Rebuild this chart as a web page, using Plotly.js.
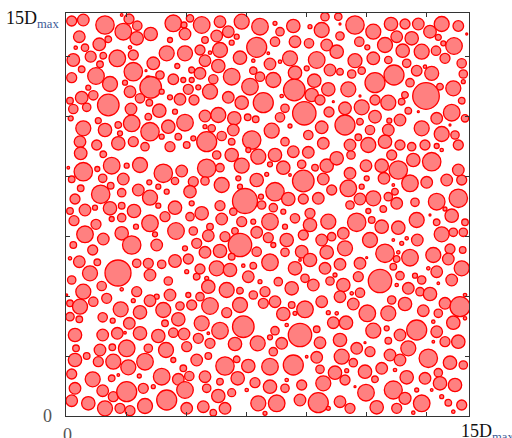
<!DOCTYPE html>
<html>
<head>
<meta charset="utf-8">
<script src="https://cdn.plot.ly/plotly-3.0.1.min.js"></script>
<style>
html,body{margin:0;padding:0;background:#fff;}
#chart{width:512px;height:438px;}
</style>
</head>
<body>
<div id="chart"></div>
<script>
// Particle packing inside a square box of side 15*Dmax.
// Coordinates: box side = 403 units (15*Dmax); each entry is [centreX, centreY, radius].
const BOX = 403;
const tickPositions = [60, 120, 180, 240, 300, 360];
const labelOrigin = "0";
const labelBox = "15D";
const labelSub = "max";

const particlesTopLeft = [[5.7,395,5],[17.3,396,5.8],[39,391,9.2],[55.7,401,1.3],[63,397,5],[71.3,390.3,4.7],[57.3,384.3,8.3],[70.7,377.7,6.7],[84.7,382,6.7],[107.3,392.7,8.3],[118,391,3],[124,397.7,3.7],[119,382,5.8],[13.3,379.3,5.8],[42.3,376.7,3.3],[33.3,371.7,6.3],[19,368.3,3.7],[9.7,368.3,1.7],[7.3,356,6.3],[24.7,359.3,5.5],[37.3,360.3,3.3],[51.3,357.7,8.3],[67.3,361,5],[64,368.7,1.7],[87.3,352.7,6.3],[100.7,362.7,7.5],[119,362.7,7.5],[104,376,2.5],[125.7,346,3],[111.3,350,2.5],[34,351.7,3.3],[15.7,346.7,3.3],[30,340,8.3],[5.7,338.3,5],[67.3,344.3,9.2],[80,345.3,1],[82.3,337.7,2.5],[94,341,4.2],[107.3,336.7,5.3],[117.3,336,2.5],[125.7,336,2.5],[44,332,7.5],[22.3,328.3,2.5],[59,333.3,2.5],[84.7,328.7,10.8],[64,324.3,5.8],[122.3,326.7,5],[95.7,324.3,2.5],[27.3,320.7,4.7],[15.7,318.3,6.3],[4,315.3,3.3],[42.3,311,10.8],[7.3,307,4.7],[20.7,308.7,4.2],[74,317.7,4.7],[83.3,313.3,3.3],[104,318.7,2.5],[114,316.7,5.8],[128,316,5],[65,307,5.8],[93.3,305.3,6.7],[82.3,299.3,3.3],[109,304.3,2.5],[4.7,297.7,2.5],[32.3,295.3,3],[65.7,292.7,8.3],[119,293.3,8.3],[102.3,289.3,6.7],[52.3,291,3.3],[17.3,287.7,7.5],[39,286,6.7],[84,284.3,9.2],[54,282.7,2.5],[112.3,279.3,3.3],[127.3,277.7,2.5],[14,274.3,5.8],[30.7,271,5],[52.3,272.7,6.7],[67.3,274.3,5],[79,269.3,4.2],[95.7,279.3,2.5],[104,269.3,5],[120.7,271,3.3]];

const particlesTopMid = [[135.7,391,8.3],[154,394.3,5.8],[175.7,394.3,7.5],[162.3,384.3,5.8],[150.7,380,5.8],[194,389.3,8.3],[209,392.7,2],[227.3,390,6.7],[244,389.3,2],[255.7,386,7.5],[259,399.3,4.2],[214,384.3,4.2],[170.7,379.3,2.5],[139,376,3.3],[165.7,373.3,2.5],[190.7,368.7,10],[209,374.3,4.7],[229,374.3,5.8],[243,372.7,4.7],[260.7,371,5.8],[134,366,5],[154,366,7.5],[144,363.3,1.7],[174,358.3,6.7],[202.3,362.7,1.3],[187.3,355.3,1.7],[204,352,5.8],[214,354.3,1.7],[224,357.7,7.5],[250.7,356,8.3],[139,355.3,5.8],[152.3,350,6.7],[187.3,345.3,3.7],[229,343.3,6.7],[240.7,347.7,2.5],[264,346,5.8],[134,342.7,5.8],[147.3,336.7,4.7],[165.7,339.3,8.3],[194,339.3,4.7],[207.3,336,7.5],[248.3,335.3,6.7],[132.3,328.7,2.5],[144,324.3,7.5],[184,329.3,8.3],[228.3,326,10.8],[262.3,326.7,6.7],[215.7,320,1.7],[162.3,318.7,5.8],[175.7,313.3,6.7],[197.3,313.3,10],[245.7,321,6.7],[254,316,5],[219,307.7,4.2],[139,300,5.8],[152.3,301,7.5],[168.3,297.7,6.7],[181.7,298.7,3.3],[189.7,296.7,3.3],[214,298.7,4.7],[238.3,302.7,11.7],[263,304,5],[139,289.3,2],[145.7,287.7,3.7],[167.3,286,5.8],[205.7,285.3,7.5],[224,290,2],[255.7,288.7,6.3],[242.3,281,4.7],[140.7,274.3,10],[155.7,280,4.7],[165.7,274.3,3.3],[185.7,276,9.2],[219,274.3,4.2],[257.3,272.7,5.8]];

const particlesTopRight = [[272.3,399.3,3.7],[274,392,1],[289,391,9.2],[307.3,384.3,7.5],[325,392,6.7],[339,392,5],[352.3,392,5.8],[364,384.3,6.3],[375.7,392,7.5],[392.3,390,5.3],[400.7,382,1],[274,380,4.2],[293.3,374.3,4.7],[301.3,368.7,2.5],[319,371,7.5],[330.7,379.3,5.8],[345.7,377.7,6.7],[372.3,378.7,3],[377.3,372.7,2.5],[388,370,8.3],[270.7,364.3,6.7],[289,355.3,7],[307.3,357.7,6.3],[322.3,356,3.7],[336.7,365.3,6.7],[355.7,364.3,7.5],[370,365.3,4.7],[379,357.7,5],[395.7,352.7,4.7],[340.7,352.7,4.2],[274,344.3,3.3],[285.7,342,4.2],[295.7,345.3,3.7],[350.7,345.3,5.3],[359,349.3,1.7],[365.7,342.7,7],[397.3,342,4.2],[328,341,10],[309,333.3,10],[344,333.3,4.2],[374,329.3,3.3],[387.3,327.7,7.5],[397.3,334.3,2],[282.3,326.7,7.5],[360,320,13.3],[339,321,3.3],[267.3,314.3,1],[294,320,1],[309,316,5],[322.3,313.3,7.5],[335.7,314.3,3.3],[395.7,315.3,3.3],[279,307.7,6.3],[295.7,308.7,7.5],[342.3,305.3,3.3],[385.7,303.3,8.3],[309,299.3,6.3],[323.3,295.3,2.5],[334,296,5.8],[352.3,304.3,1],[370.7,297.7,5.8],[399,297.7,3.7],[279,291,10],[294,294.3,3.3],[304,286,4.7],[322.3,286,5.8],[355.7,287.7,7.5],[384,291,1],[375.7,282,7.5],[389,281,4.2],[292.3,278.7,3.3],[284,271,5.8],[302.3,271,7.5],[319,274.3,6.7],[334,271,5],[345.7,269.3,4.2],[359,271,5],[370.7,270,2.5],[392.3,271,5]];

const particlesMidLeft = [[14.7,262.7,6.3],[37.3,261.7,3.3],[2.3,248.3,1.3],[17.3,244.3,9.2],[31.3,247,2.5],[45.7,250.3,8.3],[60.7,250.3,2.5],[74,251,7.5],[97.3,242.7,9.2],[115.7,245,5.8],[5.7,236.7,3.3],[36.7,237.7,4.2],[57.3,237,5.8],[83.3,233.7,2.5],[92.3,229.3,2.5],[109,235,3.7],[127.3,234.3,5],[14.7,227.7,3.3],[34.7,221.7,9.2],[44.7,230.3,3.3],[55.7,223.3,4.2],[72.3,226,5.8],[84,218.3,7.5],[100.7,224.3,2.5],[124,224.3,6.2],[9,217,5],[19,206,5.8],[29,208.3,2.5],[44,207.7,6.7],[55.7,210.3,3.3],[68,205,6.7],[92.3,210.3,2.5],[109,208.3,6.7],[125.7,212.7,2.5],[4,205,3.3],[8,195.3,5],[30,191.7,5],[45.7,197,2.5],[55.7,198.3,4.2],[84,192.7,8.3],[99,199.3,5],[124,199.3,4.2],[19,181.7,8.3],[37.3,177,5.8],[70,189.3,2.5],[110,185,8.3],[127.3,185,4.2],[55.7,182.7,6.7],[89,181.7,2.5],[7.3,171,3.3],[26.7,166,5],[65.7,171,9.2],[90.7,171,5.8],[119,167.7,2.5],[4,157.7,1.7],[13.3,154.3,5.8],[31.3,153.7,3.3],[52,143,13],[70.7,152.7,4.2],[82.3,152.7,5],[95.7,151.7,4.2],[109,155,6.3],[122.3,157,5],[24,142.7,7.5],[84,141,5.8],[102.3,135,4.2],[120.7,144.3,2],[5.7,136,4.2],[130.7,139.3,3.3]];

const particlesMidMid = [[182.3,266,2.5],[192.3,259.3,7.5],[209,261,6.7],[227.3,264.3,5.8],[242.3,263.7,5.8],[150.7,261,4.2],[165.7,261,6.7],[140.7,247.7,9.2],[154,248.3,4.2],[175.7,250.3,7.5],[204,251.7,2.5],[217.3,248.3,6.7],[235.7,251.7,4.2],[249,248.3,3.3],[260.7,250.3,6.7],[139,235,4.2],[155.7,231,7.5],[172.3,237.7,2.5],[190.7,236,6.7],[200.7,241.7,2],[224,241,1.3],[237.3,235,10.8],[257.3,237,5.8],[174,229.3,2.5],[209,224.3,9.2],[179,215,12.5],[195,219.3,2.5],[222.3,217,6.7],[237.3,217,5],[252.3,217.7,5.8],[265.7,226,5],[154,210.3,5],[195.7,211,4.2],[207.3,208.3,4.2],[135.7,202.7,6.7],[167.3,204.3,3.7],[217.3,204.3,2.5],[229,197.7,4.7],[244,202.7,5],[262.3,194.3,7.5],[155.7,197,5.8],[187.3,194.3,2.5],[204,194.3,8.3],[175.7,194.3,5],[244,191,6.7],[144,189.3,3.3],[169,185,3.3],[190.7,183.7,5.8],[219,189.3,2.5],[142.3,180.3,5.8],[159,179.3,5],[174,171,11.7],[202.3,178.3,5],[220.7,176,6.7],[237.3,181,5],[255.7,176,5.8],[130.7,172.7,5],[139,163.7,5.8],[154,165,6.7],[190.7,164.3,4.7],[207.3,171,2.5],[219,163.7,4.2],[235.7,164.3,6.3],[260.7,163.7,6.7],[165.7,159.3,3.3],[134,147,5],[150.7,147.7,7.5],[164,146,6.7],[187.3,150.3,3.3],[177.3,150.3,1.7],[204,153.7,8.3],[229,147.7,6.7],[244,156,6.7],[234,156,1.3],[259,147.7,5.8],[182.3,139.3,5.8],[194,134.3,2],[212.3,134.3,4.2],[239,137.7,4.2],[264,135,4.2],[140.7,137.7,2]];

const particlesMidRight = [[270.7,257.7,6.7],[285,261,4.2],[375.7,266,1.7],[325.7,261,5],[347.3,256,6.7],[365.7,254.3,9.2],[300,250.3,5.8],[315.7,250.3,6.7],[332.3,246,9.2],[284,242.7,5.8],[300.7,237.7,2.5],[318,237.7,5.8],[344,232.7,8.3],[360.7,233.7,5.8],[380.7,236,5.8],[395.7,236,5],[392.3,246,5.8],[282.3,227.7,8.3],[295.7,229.3,2.5],[327.3,231,1.3],[322.3,219.3,4.2],[329,224.3,3.3],[307.3,217.7,7.5],[294,217,5.8],[330.7,212.7,5.8],[349,213.7,4.2],[370.7,214.3,8.3],[392.3,217.7,9.2],[379,207,2],[284,211,4.2],[302.3,205,2.5],[317.3,207,3.3],[364,201,1],[385.7,200.3,6.7],[399,193.7,3.3],[290.7,193.7,9.2],[305.7,196,3.3],[315.7,189.3,6.7],[332.3,188.3,6.7],[350.7,196,7.5],[370.7,193.7,3.3],[375.7,181.7,7.5],[387.3,183.7,4.2],[397.3,183.7,4.2],[277.3,182.7,5.8],[304,176,7.5],[265.7,179.3,4.2],[327.3,176,1.3],[335.7,172.7,2],[340.7,177.7,1.7],[351.3,176,5.8],[279,167.7,7.5],[319,162.7,9.2],[332.3,163.7,1.7],[344,158.3,8.3],[367.3,161,7.5],[384,167,5],[396.7,166,3.3],[300.7,158.3,1],[330.7,157,3.3],[274,151.7,5.8],[294,152.7,5.8],[327.3,149.3,3.3],[382.3,157,5.8],[362.3,147.7,1.7],[370.7,144.3,5.8],[395.7,147.7,7.5],[269,141,2],[292.3,139.3,5],[314,135,11.7],[334,140.3,4.2],[349,140.3,2.5],[355.7,136,4.2],[385.7,136,5.8]];

const particlesBottomLeft = [[35.7,130,4.7],[55.7,126.7,1.7],[17.3,124.3,7.5],[0.7,121,1],[70.7,124.3,5],[90.7,119.3,2.5],[104,121,5.8],[122.3,121,2.5],[4,112.7,3.3],[14,109.3,7.5],[27.3,114.3,4.7],[40.7,117.7,5],[67.3,115.3,2],[84,115.3,5.8],[97.3,106,7.5],[114,110,4.2],[125.7,111,5],[54.7,106.7,7.5],[74,103.7,6.7],[4,99.3,4.2],[13.3,96.7,3.3],[36.7,98.7,4.7],[46.7,95.3,2.5],[63.3,92.7,5.8],[99,92.7,3.3],[112.3,96.7,6.7],[9,81,6.7],[36.7,81,5.8],[51.3,82.7,5.8],[59,83.3,1.3],[74,82.7,6.7],[92.3,80,6.7],[107.3,83.3,4.7],[118,82,5.8],[10,67.7,3.3],[20.7,60,3.3],[34,66,5.8],[46.3,68.7,3.3],[60.7,67.7,8.3],[82.3,67.7,4.2],[100,66,7.5],[120.7,69.3,5],[9,56,6.7],[32.3,54.3,5],[47.3,54.3,7.5],[62.3,48.7,7.5],[79,54.3,8.3],[107.3,56,2.5],[5.7,42,5],[26.7,36.7,7.5],[45.7,37.7,3.3],[52.3,41,1.3],[73.3,40,2],[95.7,39.3,8.3],[112.3,36.7,5.8],[123.3,40,4.7],[117.3,47.7,3.3],[9,27.7,5.8],[36.7,25.3,5.8],[47.3,19.3,5],[60.7,24.3,10],[77.3,27.7,5],[87.3,29.3,2],[119,26,8.3],[100.7,16,10],[5.7,15.3,5.8],[22.3,12.7,6.7],[39,7.7,7.5],[54,7.7,5],[64,5.3,5],[79,10,7.5],[120.7,7.7,5.8]];

const particlesBottomMid = [[142.3,129.3,6.7],[160.7,126,7.5],[174,125.3,3.3],[225.7,127.7,6.7],[247.3,131,5.8],[134,119.3,4.2],[187.3,121,4.2],[199,124.3,5],[209,114.3,5.8],[144,110,8.3],[174,111,7.5],[197.3,112.7,5],[225.7,111,3.3],[239,106.7,8.3],[255.7,114.3,5.8],[160.7,103.3,5],[217.3,102,6.7],[262.3,103.3,2],[229,102.7,2],[135.7,92.7,7.5],[154,85.3,8.3],[177.3,89.3,10.8],[209,85.3,4.2],[220.7,91,1.7],[234,81,11.7],[250.7,86.7,3.3],[142.3,82.7,1.3],[132.3,77.7,5],[144,72.7,5],[169,72,6.7],[191.7,72.7,7.5],[204,78.7,2.5],[215.7,72.7,5.8],[254,73.3,5.8],[142.3,60,3.3],[207.3,64.3,4.2],[130.7,56,5.8],[159,50,9.2],[170.7,56.7,3.3],[182.3,50,6.7],[204,49.3,8.3],[227.3,51,10],[240.7,59.3,1.3],[250.7,58.7,5.8],[254,46.7,4.2],[139,39.3,5.8],[171.7,37.7,6.7],[189,33.3,5],[204,29.3,6.7],[219,27.7,4.2],[235.7,31,5],[257.3,32.7,7.5],[154,34.3,3.3],[140.7,27.7,4.2],[220.7,36,1.7],[152.3,20,6.7],[165.7,23.3,4],[180.7,26,1.7],[234,16,5.8],[252.3,13.3,10],[137.3,9.3,5.8],[159,7.7,5.8],[192.3,12.7,7.5],[210.7,12.7,8.3],[147.3,3.3,3.3],[199,2.7,2],[262.3,7.7,2]];

const particlesBottomRight = [[277.3,131,6.7],[294,123.3,4.7],[285.7,122.7,1.7],[342.3,127.7,5.8],[330.7,131,1.7],[372.3,132.7,1.3],[274,119.3,5.8],[287.3,112,5.8],[325.7,116,4.2],[339,112,6.7],[354,124.3,4.2],[364,122,6.7],[379,112.7,5.8],[399,121,1.7],[270.7,102.7,1.7],[301.3,102.7,8.3],[322.3,102.7,7.5],[357.3,105.3,5.8],[372.3,102.7,4.2],[394,109.3,10],[267.3,93.3,5.8],[280,93.3,6.7],[307.3,85.3,7.5],[320.7,87.7,2.5],[334,81,5.8],[350.7,86,10],[367.3,94.3,1.7],[370.7,84.3,5.8],[387.3,93.3,6.7],[399,97.7,1.7],[274,76,6.7],[290.7,67.7,5.8],[299,73.3,1],[322.3,75.3,3.3],[304,64.3,5],[324,61,5.8],[342.3,67.7,7.5],[367.3,74.3,1.3],[379,74.3,5],[392.3,74.3,6.7],[275.7,59.3,7.5],[334,56,5.8],[362.3,57.7,9.2],[384,53.3,6.7],[397.3,51,4.2],[287.3,53.3,4.2],[299,44.3,6.7],[315.7,47.7,5.8],[329,46,1.7],[269,43.3,6.7],[280.7,45.3,2],[309,36.7,3.3],[340.7,38.7,6.7],[359,37.7,5.8],[372.3,43.3,4.2],[374,32.7,6.7],[389,31,6.7],[279,36,5],[289,29.3,1],[300,23.3,8.3],[327.3,26,9],[350.7,26,2],[365.7,26,1.3],[274,14.3,5.8],[284,7.7,5],[310.7,8.7,6.7],[339,17.7,6],[355.7,12.7,8.3],[375.7,19.3,2],[382.3,13.3,3.3],[395.7,11,5],[330.7,7.7,5],[347.3,3.3,1.7],[387.3,4.3,1.7]];

const allParticles = [].concat(particlesTopLeft, particlesTopMid, particlesTopRight,
  particlesMidLeft, particlesMidMid, particlesMidRight,
  particlesBottomLeft, particlesBottomMid, particlesBottomRight);

const shapes = allParticles.map(p => ({
  type: 'circle', xref: 'x', yref: 'y', layer: 'below',
  x0: p[0] - p[2], x1: p[0] + p[2], y0: p[1] - p[2], y1: p[1] + p[2],
  fillcolor: '#ff8080', line: {color: '#ff0000', width: 1.3}
}));

const centres = {
  type: 'scatter', mode: 'markers',
  x: allParticles.map(p => p[0]), y: allParticles.map(p => p[1]),
  marker: {size: 1, opacity: 0}, hoverinfo: 'skip', showlegend: false
};

const axisCommon = {
  range: [0, BOX], showgrid: false, zeroline: false,
  showline: true, linecolor: '#333333', linewidth: 1, mirror: 'ticks',
  ticks: 'inside', ticklen: 4, tickwidth: 1, tickcolor: '#333333',
  tickmode: 'array', tickvals: tickPositions, showticklabels: false,
  fixedrange: true
};

const serif = 'Liberation Serif, Times New Roman, serif';
const boxLabel = labelBox + '<sub><span style="color:#3d5a96">' + labelSub + '</span></sub>';

const layout = {
  width: 512, height: 438,
  margin: {l: 66, r: 43, t: 13, b: 22, pad: 0},
  paper_bgcolor: '#ffffff', plot_bgcolor: '#ffffff',
  showlegend: false,
  xaxis: Object.assign({}, axisCommon),
  yaxis: Object.assign({}, axisCommon),
  shapes: shapes,
  annotations: [
    {xref: 'paper', yref: 'paper', x: -0.012, y: 0.985, xanchor: 'right', yanchor: 'middle',
     text: boxLabel, showarrow: false, font: {family: serif, size: 18, color: '#111111'}},
    {xref: 'paper', yref: 'paper', x: -0.045, y: 0.0, xanchor: 'center', yanchor: 'middle',
     text: labelOrigin, showarrow: false, font: {family: serif, size: 18, color: '#555555'}},
    {xref: 'paper', yref: 'paper', x: 0.0025, y: -0.047, xanchor: 'center', yanchor: 'middle',
     text: labelOrigin, showarrow: false, font: {family: serif, size: 18, color: '#555555'}},
    {xref: 'paper', yref: 'paper', x: 0.9745, y: -0.04, xanchor: 'left', yanchor: 'middle',
     text: boxLabel, showarrow: false, font: {family: serif, size: 18, color: '#111111'}}
  ]
};

Plotly.newPlot('chart', [centres], layout, {displayModeBar: false, staticPlot: true});
</script>
</body>
</html>
